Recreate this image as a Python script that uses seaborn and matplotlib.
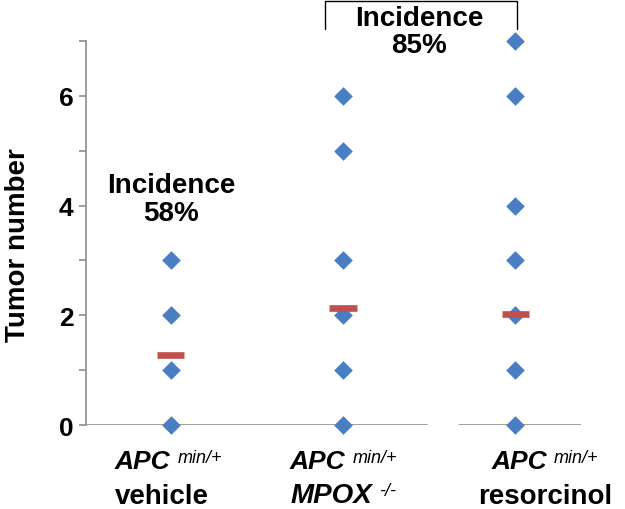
import numpy as np
import pandas as pd
import matplotlib
matplotlib.use("Agg")
import matplotlib.pyplot as plt
from matplotlib.lines import Line2D
from matplotlib.transforms import IdentityTransform
import seaborn as sns

# distinct tumour counts visible per group, and the group means (red bars)
groups = ["vehicle", "MPOX", "resorcinol"]
vehicle_counts = [0, 1, 2, 3]
mpox_counts = [0, 1, 2, 3, 5, 6]
resorcinol_counts = [0, 1, 2, 3, 4, 6, 7]
group_means = [1.27, 2.13, 2.02]
incidence = ["58%", "85%"]

df = pd.DataFrame({
    "group": ["vehicle"] * len(vehicle_counts) + ["MPOX"] * len(mpox_counts)
             + ["resorcinol"] * len(resorcinol_counts),
    "tumors": vehicle_counts + mpox_counts + resorcinol_counts,
})

sns.set_style("white")
plt.rcParams["font.family"] = ["Liberation Sans", "DejaVu Sans"]
plt.rcParams["text.color"] = "black"
plt.rcParams["axes.labelcolor"] = "black"

W, H = 625, 510
fig = plt.figure(figsize=(W / 100, H / 100), dpi=100)
ax = fig.add_axes([86 / W, 1 - 426 / H, 495 / W, 384 / H])

blue = "#4A7EC2"
red = "#C0504D"
grey = "#8C8C8C"

sns.stripplot(data=df, x="group", y="tumors", order=groups, jitter=False,
              marker="D", size=9.5, color=blue, linewidth=0, ax=ax, zorder=3)
for c in ax.collections:
    c.set_clip_on(False)
for i, m in enumerate(group_means):
    ax.hlines(m, i - 0.08, i + 0.08, color=red, lw=4.8, zorder=4)

ax.set_xlim(-0.49, 2.38)
ax.set_ylim(0, 7)

# axes styling
for s in ["top", "right", "bottom"]:
    ax.spines[s].set_visible(False)
ax.spines["left"].set_color(grey)
ax.spines["left"].set_linewidth(1.2)
ax.axhline(0, xmin=0, xmax=0.689, color=grey, lw=1.2, zorder=1)
ax.axhline(0, xmin=0.753, xmax=1, color=grey, lw=1.2, zorder=1)

ax.set_yticks(range(0, 8))
ax.set_yticklabels([str(v) if v % 2 == 0 else "" for v in range(0, 8)],
                   fontsize=19, fontweight="bold")
ax.tick_params(axis="y", direction="out", length=5, color=grey, width=1.2,
               left=True, pad=4, labelcolor="black")
ax.set_xticks(range(len(groups)))
ax.set_xticklabels([])
ax.tick_params(axis="x", length=0)
ax.set_xlabel("")
ax.set_ylabel("Tumor number", fontsize=20, fontweight="bold")
ax.yaxis.set_label_coords(-0.111, 0.47)

renderer = fig.canvas.get_renderer()


def draw_line(parts, x_px, y_px, align="left"):
    # parts: (text, fontsize, weight, style, raise_px, gap_px)
    items = []
    x = 0.0
    for s, size, weight, style, dy, gap in parts:
        x += gap
        t = fig.text(0, 0, s, fontsize=size, fontweight=weight, fontstyle=style,
                     va="baseline", ha="left", transform=IdentityTransform())
        w = t.get_window_extent(renderer).width
        items.append((t, x, dy))
        x += w
    x0 = x_px if align == "left" else x_px - x / 2
    for t, off, dy in items:
        t.set_position((x0 + off, H - y_px + dy))


sup = 13
line1 = [("APC", 19, "bold", "italic", 0, 0), ("min/+", sup, "normal", "italic", 6, 7)]
draw_line(line1, 115, 469)
draw_line([("vehicle", 20, "bold", "normal", 0, 0)], 115, 504)
draw_line(line1, 290, 469)
draw_line([("MPOX", 20, "bold", "italic", 0, 0), ("-/-", sup, "normal", "italic", 7, 6)],
          291, 503)
draw_line(line1, 545, 469, align="center")
draw_line([("resorcinol", 20, "bold", "normal", 0, 0)], 545, 504, align="center")

# incidence annotations
draw_line([("Incidence", 20, "bold", "normal", 0, 0)], 171, 193, align="center")
draw_line([(incidence[0], 20, "bold", "normal", 0, 0)], 171, 221, align="center")
draw_line([("Incidence", 20, "bold", "normal", 0, 0)], 419, 26, align="center")
draw_line([(incidence[1], 20, "bold", "normal", 0, 0)], 419, 53, align="center")
fig.add_artist(Line2D([325, 325, 517, 517], [H - 30, H - 1.5, H - 1.5, H - 30],
                      color="black", lw=1.0, transform=IdentityTransform()))

fig.savefig("out.png", dpi=100)
